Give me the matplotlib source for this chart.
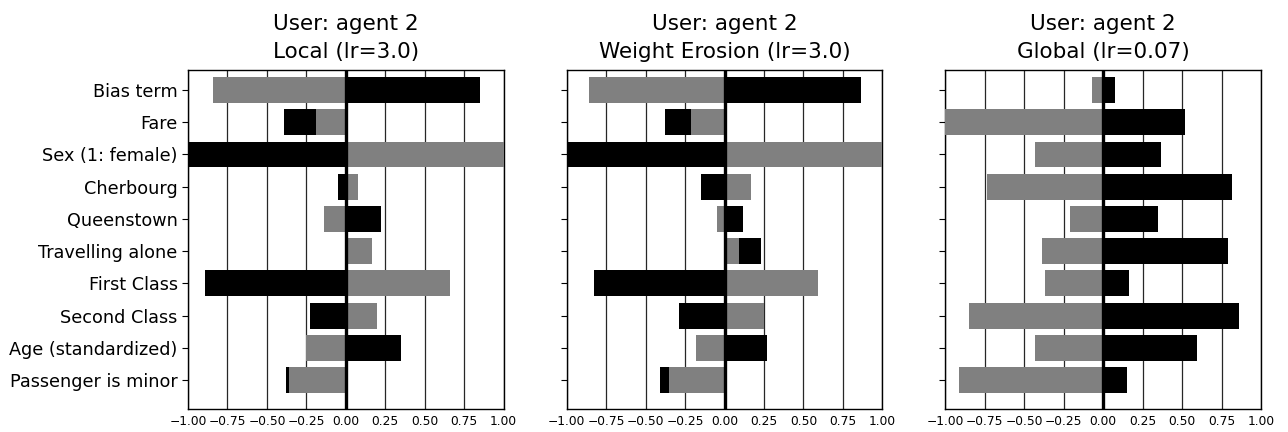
import matplotlib
matplotlib.use("Agg")
import matplotlib.pyplot as plt
import numpy as np

features = ["Bias term", "Fare", "Sex (1: female)", "Cherbourg", "Queenstown",
            "Travelling alone", "First Class", "Second Class",
            "Age (standardized)", "Passenger is minor"]

titles = ["User: agent 2\nLocal (lr=3.0)",
          "User: agent 2\nWeight Erosion (lr=3.0)",
          "User: agent 2\nGlobal (lr=0.07)"]

# black series
local_black = [0.85, -0.39, -1.05, -0.05, 0.22, 0.02, -0.89, -0.23, 0.35, -0.38]
erosion_black = [0.865, -0.38, -1.05, -0.15, 0.12, 0.23, -0.83, -0.29, 0.27, -0.41]
global_black = [0.075, 0.52, 0.365, 0.815, 0.345, 0.79, 0.165, 0.86, 0.595, 0.15]

# gray series
local_gray = [-0.84, -0.19, 1.05, 0.08, -0.14, 0.165, 0.66, 0.20, -0.25, -0.36]
erosion_gray = [-0.86, -0.215, 1.05, 0.17, -0.045, 0.095, 0.59, 0.25, -0.18, -0.35]
global_gray = [-0.07, -1.05, -0.43, -0.735, -0.21, -0.39, -0.37, -0.85, -0.43, -0.915]

blacks = [local_black, erosion_black, global_black]
grays = [local_gray, erosion_gray, global_gray]

xticks = [-1.0, -0.75, -0.5, -0.25, 0.0, 0.25, 0.5, 0.75, 1.0]

fig = plt.figure(figsize=(12.88, 4.32), dpi=100)
lefts = [0.146, 0.440, 0.734]
width = 0.245
y = np.arange(len(features))

for i in range(3):
    ax = fig.add_axes([lefts[i], 0.053, width, 0.785])
    for xt in xticks:
        ax.axvline(xt, color="0.15", lw=0.9, zorder=0)
    ax.barh(y, blacks[i], height=0.8, color="black", zorder=2)
    ax.barh(y, grays[i], height=0.8, color="gray", zorder=3)
    ax.axvline(0, color="black", lw=2.4, zorder=4)
    ax.set_xlim(-1, 1)
    ax.set_ylim(9.9, -0.62)
    ax.set_xticks(xticks)
    ax.set_xticklabels([f"{v:.2f}".replace("-", "\u2212") for v in xticks], fontsize=8.8)
    ax.set_yticks(y)
    if i == 0:
        ax.set_yticklabels(features, fontsize=12.7)
    else:
        ax.set_yticklabels([])
    ax.tick_params(axis="x", length=0, pad=4)
    ax.tick_params(axis="y", length=4)
    ax.set_title(titles[i], fontsize=15.5, linespacing=1.5, pad=8.5)
    for s in ax.spines.values():
        s.set_linewidth(1.0)

fig.savefig("out.png", dpi=100)
